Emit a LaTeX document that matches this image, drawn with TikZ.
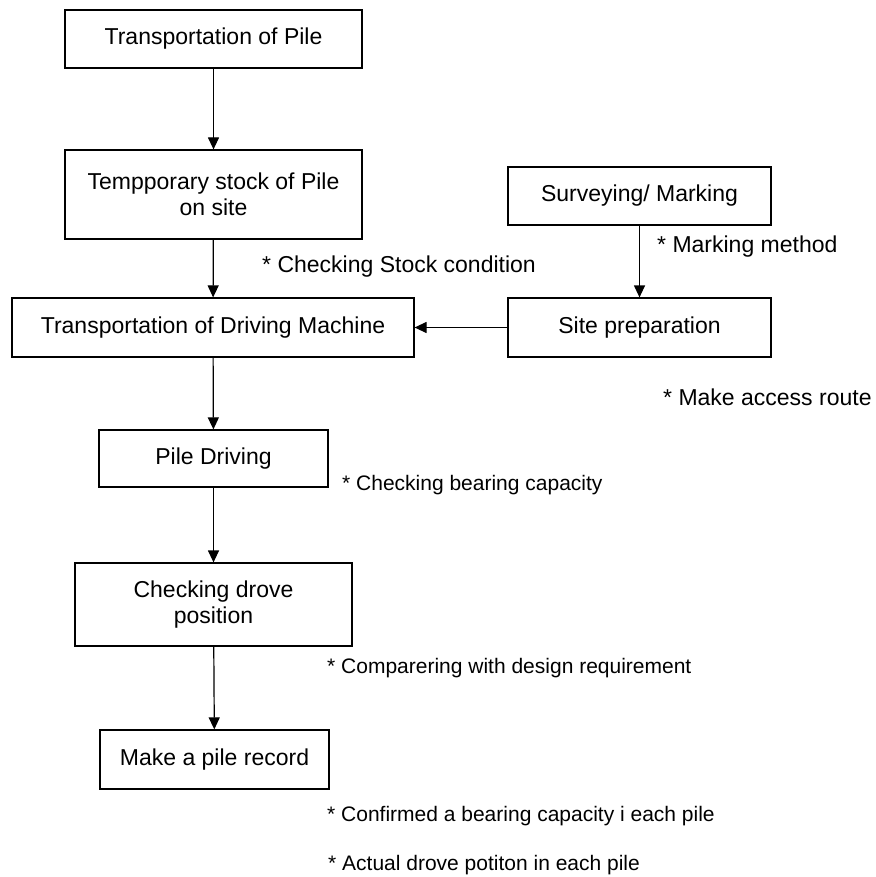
\documentclass[tikz,border=0pt]{standalone}
\usepackage{fontspec}
\setmainfont{Liberation Sans}
\usetikzlibrary{arrows.meta}
\tikzset{
  box/.style={draw, line width=1.2pt, inner sep=0pt, align=center,
    font=\fontsize{23}{26}\selectfont},
  note/.style={anchor=west, inner sep=0pt, font=\fontsize{23}{26}\selectfont},
  smallnote/.style={note, font=\fontsize{21}{24}\selectfont},
  flow/.style={line width=1.2pt, -{Triangle[length=12pt,width=11pt]}}
}
\begin{document}
\begin{tikzpicture}[x=1pt,y=-1pt]
\useasboundingbox (0,0) rectangle (875,877);
% boxes
\node[box, minimum width=297, minimum height=58] (transpile) at (213.5, 39)    {Transportation of Pile};
\node[box, minimum width=297, minimum height=89] (stock)     at (213.5, 194.5) {Tempporary stock of Pile\\on site};
\node[box, minimum width=402, minimum height=59] (machine)   at (213, 327.5)   {Transportation of Driving Machine};
\node[box, minimum width=263, minimum height=58] (survey)    at (639.5, 196)   {Surveying/ Marking};
\node[box, minimum width=263, minimum height=59] (siteprep)  at (639.5, 327.5) {Site preparation};
\node[box, minimum width=229, minimum height=57] (driving)   at (213.5, 458.5) {Pile Driving};
\node[box, minimum width=277, minimum height=83] (position)  at (213.5, 604.5) {Checking drove\\position};
\node[box, minimum width=229, minimum height=59] (record)    at (214.5, 759.5) {Make a pile record};
% arrows
\draw[flow] (transpile) -- (stock);
\draw[flow] (stock)     -- (machine);
\draw[flow] (survey)    -- (siteprep);
\draw[flow] (siteprep)  -- (machine);
\draw[flow] (machine)   -- (driving);
\draw[flow] (driving)   -- (position);
\draw[flow] (position)  -- (record);
% notes
\node[note] (n1) at (262, 267) {* Checking Stock condition};
\node[note] (n2) at (657, 247) {* Marking method};
\node[note] (n3) at (663, 397) {* Make access route};
\node[smallnote] (n4) at (342, 485) {* Checking bearing capacity};
\node[smallnote] (n5) at (327, 668) {* Comparering with design requirement};
\node[smallnote] (n6) at (327, 816) {* Confirmed a bearing capacity i each pile};
\node[smallnote] (n7) at (328, 865) {* Actual drove potiton in each pile};
\end{tikzpicture}
\end{document}
